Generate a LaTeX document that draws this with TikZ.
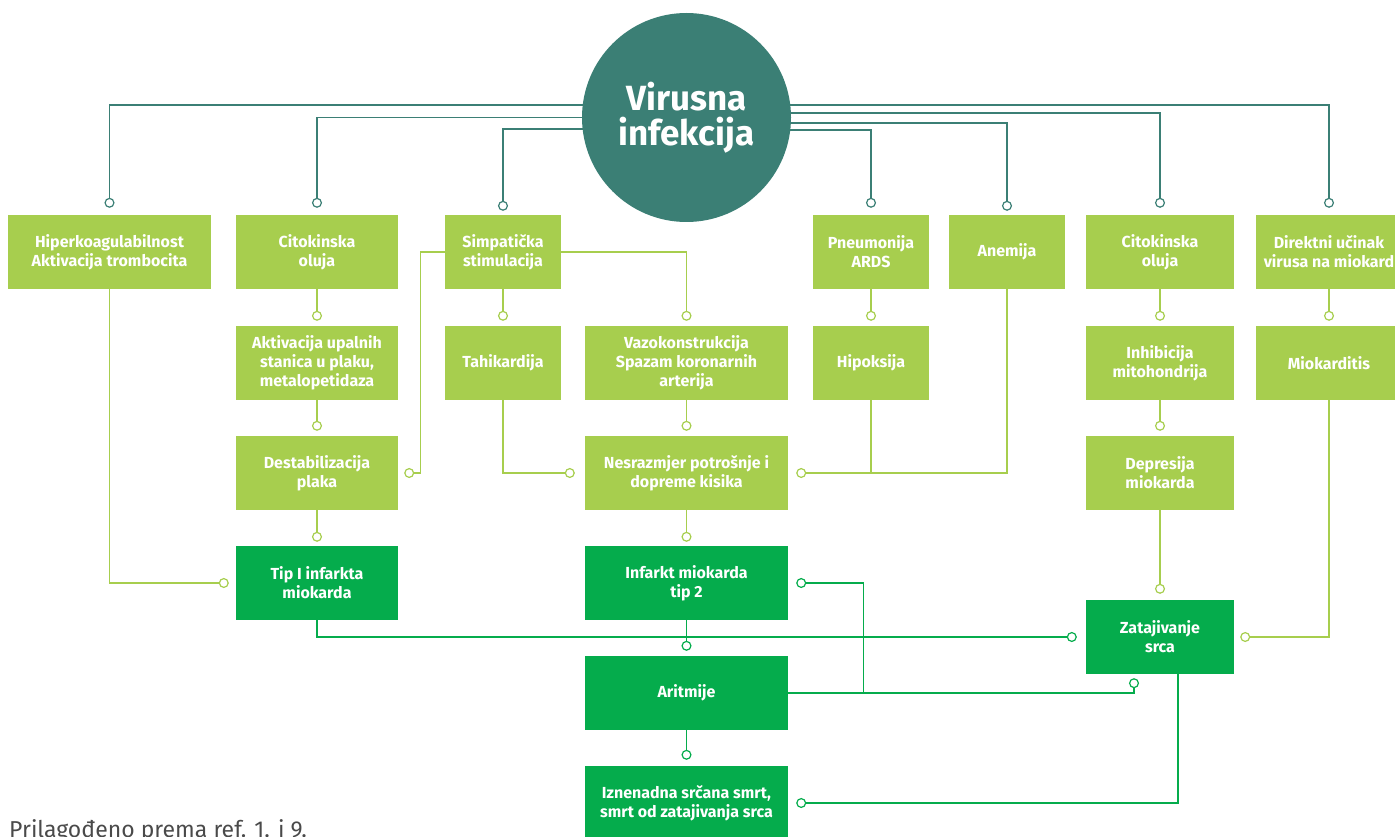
\documentclass[tikz,border=0pt]{standalone}
\usepackage{fontspec}
\setmainfont{Fira Sans}
\usetikzlibrary{arrows.meta,backgrounds}
\definecolor{teal1}{HTML}{3B7F75}
\definecolor{lgreen}{HTML}{A7CE4E}
\definecolor{dgreen}{HTML}{05AC4C}
\definecolor{footgray}{HTML}{4A4A4A}
\begin{document}
\begin{tikzpicture}[x=1pt,y=-1pt,
 box/.style={rectangle, inner sep=0pt, minimum height=74pt, text=white,
   font=\bfseries\fontsize{16}{19}\selectfont, align=center},
 lbox/.style={box, fill=lgreen},
 dbox/.style={box, fill=dgreen},
 conn/.style={line width=1.2pt},
 term/.style={conn, -{Circle[open,length=10pt,width=10pt]}}]
\useasboundingbox (0,0) rectangle (1395,837);
\clip (0,0) rectangle (1395,837);

\node[circle, fill=teal1, minimum size=209pt, inner sep=0pt, text=white,
  font=\bfseries\fontsize{35}{35}\selectfont, align=center] (virus) at (686.5,117.5) {Virusna\\infekcija};

% row 1
\node[lbox, minimum width=203pt] (hip) at (109.5,252) {Hiperkoagulabilnost\\Aktivacija trombocita};
\node[lbox, minimum width=162pt] (cit1) at (317,252) {Citokinska\\oluja};
\node[lbox, minimum width=116pt] (simp) at (503,252) {Simpatička\\stimulacija};
\node[lbox, minimum width=116pt] (pneu) at (871,252) {Pneumonija\\ARDS};
\node[lbox, minimum width=116pt] (anem) at (1007,252) {Anemija};
\node[lbox, minimum width=148pt] (cit2) at (1160,252) {Citokinska\\oluja};
\node[lbox, minimum width=146pt] (dir) at (1329,252) {Direktni učinak\\virusa na miokard};
% row 2
\node[lbox, minimum width=162pt] (akt) at (317,363) {Aktivacija upalnih\\stanica u plaku,\\metalopetidaza};
\node[lbox, minimum width=116pt] (tah) at (503,363) {Tahikardija};
\node[lbox, minimum width=203pt] (vazo) at (686.5,363) {Vazokonstrukcija\\Spazam koronarnih\\arterija};
\node[lbox, minimum width=116pt] (hipo) at (871,363) {Hipoksija};
\node[lbox, minimum width=148pt] (inh) at (1160,363) {Inhibicija\\mitohondrija};
\node[lbox, minimum width=146pt] (mio) at (1329,363) {Miokarditis};
% row 3
\node[lbox, minimum width=162pt] (destab) at (317,473) {Destabilizacija\\plaka};
\node[lbox, minimum width=203pt] (nes) at (686.5,473) {Nesrazmjer potrošnje i\\dopreme kisika};
\node[lbox, minimum width=148pt] (dep) at (1160,473) {Depresija\\miokarda};
% row 4 and below
\node[dbox, minimum width=162pt] (tip1) at (317,583) {Tip I infarkta\\miokarda};
\node[dbox, minimum width=203pt] (inf2) at (686.5,583) {Infarkt miokarda\\tip 2};
\node[dbox, minimum width=148pt] (zat) at (1160,637) {Zatajivanje\\srca};
\node[dbox, minimum width=203pt] (arit) at (686.5,693) {Aritmije};
\node[dbox, minimum width=203pt] (izn) at (686.5,803) {Iznenadna srčana smrt,\\smrt od zatajivanja srca};

\node[anchor=base west, inner sep=0pt, text=footgray, font=\fontsize{23}{26}\selectfont] (src) at (9,837.5) {Prilagođeno prema ref. 1. i 9.};

% teal connectors from the virus circle
\begin{scope}[on background layer]
\draw[term, teal1] ([yshift=12.5pt]virus.center) -| ([yshift=7pt]hip.north);
\draw[term, teal1] (virus.center) -| ([yshift=7pt]cit1.north);
\draw[term, teal1] ([yshift=-11.5pt]virus.center) -| ([yshift=4pt]simp.north);
\draw[term, teal1] ([yshift=-12.5pt]virus.center) -| ([yshift=7pt]pneu.north);
\draw[term, teal1] ([yshift=-5.5pt]virus.center) -| ([yshift=4pt]anem.north);
\draw[term, teal1] ([yshift=4.5pt]virus.center) -| ([yshift=7pt]cit2.north);
\draw[term, teal1] ([yshift=12.5pt]virus.center) -| ([yshift=7pt]dir.north);
\end{scope}

% light green connectors
\draw[term, lgreen] (hip.south) |- ([xshift=-7pt]tip1.west);
\draw[term, lgreen] (cit1.south) -- ([yshift=5pt]akt.north);
\draw[term, lgreen] (akt.south) -- ([yshift=5pt]destab.north);
\draw[term, lgreen] (destab.south) -- ([yshift=4pt]tip1.north);
\draw[term, lgreen] (simp.south) -- ([yshift=5pt]tah.north);
\draw[term, lgreen] (simp.west) -| ([xshift=22pt]destab.east) -- ([xshift=6pt]destab.east);
\draw[term, lgreen] (simp.east) -| ([yshift=5pt]vazo.north);
\draw[term, lgreen] (tah.south) |- ([xshift=-10pt]nes.west);
\draw[term, lgreen] (vazo.south) -- ([yshift=5pt]nes.north);
\draw[term, lgreen] (nes.south) -- ([yshift=4pt]inf2.north);
\draw[term, lgreen] (pneu.south) -- ([yshift=5pt]hipo.north);
\draw[conn, lgreen] (hipo.south) -- (hipo.south |- nes.east);
\draw[term, lgreen] (anem.south) |- ([xshift=8pt]nes.east);
\draw[term, lgreen] (cit2.south) -- ([yshift=5pt]inh.north);
\draw[term, lgreen] (inh.south) -- ([yshift=5pt]dep.north);
\draw[term, lgreen] (dep.south) -- ([yshift=6pt]zat.north);
\draw[term, lgreen] (dir.south) -- ([yshift=5pt]mio.north);
\draw[term, lgreen] (mio.south) |- ([xshift=6pt]zat.east);

% dark green connectors
\draw[term, dgreen] (tip1.south) |- ([xshift=-9pt]zat.west);
\draw[term, dgreen] (inf2.south) -- ([yshift=5pt]arit.north);
\draw[term, dgreen] (arit.south) -- ([yshift=6pt]izn.north);
\draw[term, dgreen] (arit.east) -| ([xshift=-26pt,yshift=-4pt]zat.south);
\draw[term, dgreen] ([xshift=75pt]arit.east) |- ([xshift=8pt]inf2.east);
\draw[term, dgreen] ([xshift=18pt]zat.south) |- ([xshift=8pt]izn.east);
\end{tikzpicture}
\end{document}
